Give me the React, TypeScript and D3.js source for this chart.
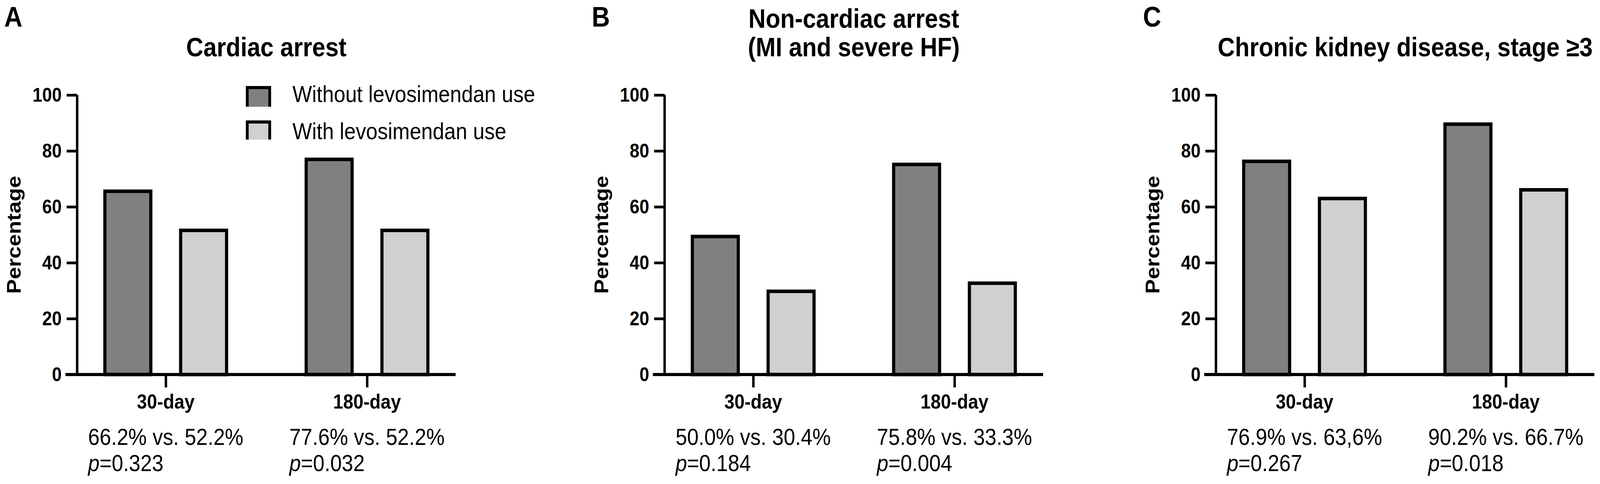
import React, { useEffect, useRef } from "react";
import * as d3 from "d3";

const W = 4562;
const H = 1238;

// ---- data ----
const categories = ["30-day", "180-day"];
const seriesNames = ["Without levosimendan use", "With levosimendan use"];
const seriesColors = ["#808080", "#d0d0d2"];
const yTicks = [0, 20, 40, 60, 80, 100];
const panelLetters = ["A", "B", "C"];
const titleA = ["Cardiac arrest"];
const titleB = ["Non-cardiac arrest", "(MI and severe HF)"];
const titleC = ["Chronic kidney disease, stage \u22653"];

const cardiacWithout = [66.2, 77.6];
const cardiacWith = [52.2, 52.2];
const nonCardiacWithout = [50.0, 75.8];
const nonCardiacWith = [30.4, 33.3];
const ckdWithout = [76.9, 90.2];
const ckdWith = [63.6, 66.7];

const comparisonsA = ["66.2% vs. 52.2%", "77.6% vs. 52.2%"];
const pValuesA = ["0.323", "0.032"];
const comparisonsB = ["50.0% vs. 30.4%", "75.8% vs. 33.3%"];
const pValuesB = ["0.184", "0.004"];
const comparisonsC = ["76.9% vs. 63,6%", "90.2% vs. 66.7%"];
const pValuesC = ["0.267", "0.018"];

const FONT = "'Liberation Sans', Arial, Helvetica, sans-serif";

export default function App() {
  const ref = useRef<SVGSVGElement | null>(null);

  useEffect(() => {
    const svg = d3.select(ref.current);
    svg.selectAll("*").remove();

    const panels = [
      { letter: panelLetters[0], title: titleA, series: [cardiacWithout, cardiacWith], comps: comparisonsA, ps: pValuesA, x0: 220, legend: true },
      { letter: panelLetters[1], title: titleB, series: [nonCardiacWithout, nonCardiacWith], comps: comparisonsB, ps: pValuesB, x0: 1895, legend: false },
      { letter: panelLetters[2], title: titleC, series: [ckdWithout, ckdWith], comps: comparisonsC, ps: pValuesC, x0: 3467, legend: false },
    ];

    const axisLen = 1079;
    const y = d3.scaleLinear().domain([0, 100]).range([958, 243]);
    const sub = d3.scaleBand<string>().domain(seriesNames).range([-178, 178]).paddingInner(0.352);
    const color = d3.scaleOrdinal<string, string>().domain(seriesNames).range(seriesColors);
    const sw = 9;

    svg.append("rect").attr("x", 0).attr("y", 0).attr("width", W).attr("height", H).attr("fill", "#fff");

    panels.forEach((p) => {
      const g = svg.append("g");
      const x = d3.scalePoint<string>().domain(categories).range([p.x0, p.x0 + axisLen]).padding(0.44);
      const midX = p.x0 + axisLen / 2;

      g.append("text")
        .attr("x", p.x0 - 208)
        .attr("y", 68)
        .attr("font-family", FONT)
        .attr("font-weight", "bold")
        .attr("font-size", 72)
        .text(p.letter);

      const lines = p.title;
      const lastBase = 144;
      lines.forEach((ln, i) => {
        g.append("text")
          .attr("x", midX)
          .attr("y", lastBase - (lines.length - 1 - i) * 73)
          .attr("text-anchor", "middle")
          .attr("font-family", FONT)
          .attr("font-weight", "bold")
          .attr("font-size", 68)
          .text(ln);
      });

      categories.forEach((cat, ci) => {
        seriesNames.forEach((s, si) => {
          const v = p.series[si][ci];
          const bx = (x(cat) as number) + (sub(s) as number);
          g.append("rect")
            .attr("x", bx + sw / 2)
            .attr("y", y(v) + sw / 2)
            .attr("width", sub.bandwidth() - sw)
            .attr("height", y(0) - y(v) - sw / 2)
            .attr("fill", color(s))
            .attr("stroke", "#000")
            .attr("stroke-width", sw);
        });
      });

      const yAxis = d3.axisLeft(y).tickValues(yTicks).tickSize(30).tickPadding(14).tickFormat(d3.format("d"));
      const ya = g.append("g").attr("transform", `translate(${p.x0},0)`).call(yAxis);
      ya.select(".domain").attr("stroke", "#000").attr("stroke-width", 7).attr("d", `M0,${y(100)}V${y(0)}`);
      ya.selectAll(".tick line").attr("stroke", "#000").attr("stroke-width", 7);
      ya.selectAll(".tick text")
        .attr("font-family", FONT)
        .attr("font-weight", "bold")
        .attr("font-size", 50)
        .attr("fill", "#000");

      const xAxis = d3.axisBottom(x).tickSize(33).tickFormat(() => "");
      const xa = g.append("g").attr("transform", `translate(0,${y(0)})`).call(xAxis);
      xa.select(".domain").attr("stroke", "#000").attr("stroke-width", 8).attr("d", `M${p.x0 - 33.5},0H${p.x0 + axisLen}`);
      xa.selectAll(".tick line").attr("stroke", "#000").attr("stroke-width", 7);

      categories.forEach((cat) => {
        g.append("text")
          .attr("x", x(cat) as number)
          .attr("y", 1045)
          .attr("text-anchor", "middle")
          .attr("font-family", FONT)
          .attr("font-weight", "bold")
          .attr("font-size", 52)
          .text(cat);
      });

      g.append("text")
        .attr("transform", `translate(${p.x0 - 161},${(y(0) + y(100)) / 2}) rotate(-90)`)
        .attr("text-anchor", "middle")
        .attr("font-family", FONT)
        .attr("font-weight", "bold")
        .attr("font-size", 56)
        .text("Percentage");

      categories.forEach((cat, ci) => {
        const cx = x(cat) as number;
        const t1 = g.append("text")
          .attr("x", cx)
          .attr("y", 1138)
          .attr("text-anchor", "middle")
          .attr("font-family", FONT)
          .attr("font-size", 59)
          .text(p.comps[ci]);
        const node = t1.node() as SVGTextElement;
        const w = node.getComputedTextLength();
        const t2 = g.append("text")
          .attr("x", cx - w / 2)
          .attr("y", 1205)
          .attr("font-family", FONT)
          .attr("font-size", 59);
        t2.append("tspan").attr("font-style", "italic").text("p");
        t2.append("tspan").text("=" + p.ps[ci]);
      });

      if (p.legend) {
        const lx = 703;
        const lw = 70;
        const rows = [
          { top: 220, bottom: 273, base: 261 },
          { top: 308, bottom: 357, base: 356 },
        ];
        seriesNames.forEach((s, si) => {
          const r = rows[si];
          g.append("rect")
            .attr("x", lx)
            .attr("y", r.top)
            .attr("width", lw)
            .attr("height", r.bottom - r.top)
            .attr("fill", color(s));
          g.append("path")
            .attr("d", `M${lx + 2},${r.bottom}V${r.top + 4}H${lx + lw - 4}V${r.bottom}`)
            .attr("fill", "none")
            .attr("stroke", "#000")
            .attr("stroke-width", 8);
          g.append("text")
            .attr("x", 834)
            .attr("y", r.base)
            .attr("font-family", FONT)
            .attr("font-size", 59)
            .text(s);
        });
      }
    });
  }, []);

  return (
    <svg
      ref={ref}
      viewBox={`0 0 ${W} ${H}`}
      preserveAspectRatio="none"
      style={{ position: "fixed", left: 0, top: 0, width: "100vw", height: "100vh", display: "block", background: "#fff" }}
    />
  );
}
